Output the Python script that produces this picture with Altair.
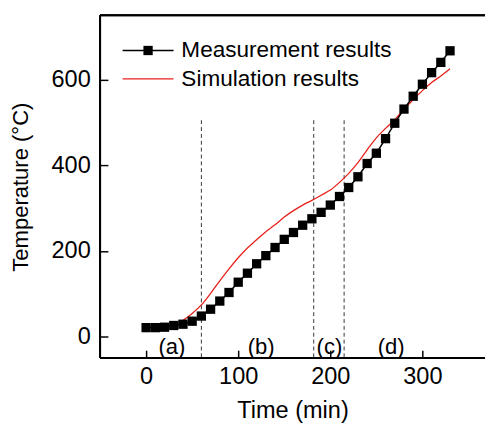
import altair as alt
import pandas as pd

# ---- data ----
meas_time = list(range(0, 331, 10))
meas_temp = [21, 21, 22, 26, 29, 36, 48, 64, 83, 103, 127, 148, 170, 189, 208, 227,
             243, 260, 275, 290, 307, 327, 348, 373, 404, 428, 462, 498, 531, 561,
             589, 616, 640, 667]

sim_time = list(range(0, 331, 10))
sim_temp = [21, 20, 22, 28, 38, 54, 74, 101, 130, 158, 184, 207, 226, 245, 261, 279,
            294, 307, 318, 330, 342, 360, 381, 406, 436, 464, 486, 506, 531, 553,
            574, 593, 608, 625]

stage_bounds = [60, 182, 215]
stage_top = [505, 505, 505]
stage_bottom = [-50, -50, -50]

stage_labels = ["(a)", "(b)", "(c)", "(d)"]
stage_label_x = [28, 125, 199, 266]
stage_label_y = [-24, -24, -24, -24]

x_ticks = [0, 100, 200, 300]
y_ticks = [0, 200, 400, 600]
legend_labels = ["Measurement results", "Simulation results"]

W, H = 393, 350
FONT = "Liberation Sans"

meas = pd.DataFrame({"t": meas_time, "T": meas_temp})
sim = pd.DataFrame({"t": sim_time, "T": sim_temp})
bounds = pd.DataFrame({"t": stage_bounds, "top": stage_top, "bot": stage_bottom})
labels = pd.DataFrame({"t": stage_label_x, "T": stage_label_y, "lab": stage_labels})
leg = pd.DataFrame({"lab": legend_labels})

xscale = alt.Scale(domain=[-50, 368], nice=False, zero=False)
yscale = alt.Scale(domain=[-50, 750], nice=False, zero=False)

xax = alt.Axis(values=x_ticks, title="Time (min)", grid=False, domain=False,
               offset=-8, tickSize=8, tickWidth=1.5, tickColor="black",
               labelPadding=7, titlePadding=11, labelFlush=False,
               labelFontSize=24, titleFontSize=24)
yax = alt.Axis(values=y_ticks, title="Temperature (°C)", grid=False, domain=False,
               offset=-8, tickSize=8, tickWidth=1.5, tickColor="black",
               labelPadding=10, titlePadding=19,
               labelFontSize=24, titleFontSize=22.5)

X = alt.X("t:Q", scale=xscale, axis=xax)
Y = alt.Y("T:Q", scale=yscale, axis=yax)

sim_line = alt.Chart(sim).mark_line(color="#e8201a", strokeWidth=1.3,
                                    interpolate="monotone").encode(x=X, y=Y)
meas_line = alt.Chart(meas).mark_line(color="black", strokeWidth=1.5).encode(x=X, y=Y)
meas_pts = alt.Chart(meas).mark_point(shape="square", filled=True, size=90,
                                      color="black", opacity=1).encode(x=X, y=Y)

dashes = alt.Chart(bounds).mark_rule(color="#333333", strokeWidth=1,
                                     strokeDash=[4, 3]).encode(
    x="t:Q", y="top:Q", y2="bot:Q")

stage_txt = alt.Chart(labels).mark_text(fontSize=22.5, font=FONT, color="black",
                                        baseline="middle").encode(
    x="t:Q", y="T:Q", text="lab:N")

# frame (left, top, bottom)
frame_left = alt.Chart(leg).mark_rule(color="black", strokeWidth=2).encode(
    x=alt.value(0), y=alt.value(0), y2=alt.value(H))
frame_top = alt.Chart(leg).mark_rule(color="black", strokeWidth=2).encode(
    x=alt.value(0), x2=alt.value(W), y=alt.value(0))
frame_bot = alt.Chart(leg).mark_rule(color="black", strokeWidth=2).encode(
    x=alt.value(0), x2=alt.value(W), y=alt.value(H))

# legend
leg1 = leg.iloc[[0]]
leg2 = leg.iloc[[1]]
l1_line = alt.Chart(leg1).mark_rule(color="black", strokeWidth=1.5).encode(
    x=alt.value(23), x2=alt.value(75), y=alt.value(36))
l1_pt = alt.Chart(leg1).mark_point(shape="square", filled=True, size=90,
                                   color="black", opacity=1).encode(
    x=alt.value(49), y=alt.value(36))
l1_txt = alt.Chart(leg1).mark_text(fontSize=23, font=FONT, align="left",
                                   baseline="middle", color="black").encode(
    x=alt.value(83), y=alt.value(36), text="lab:N")
l2_line = alt.Chart(leg2).mark_rule(color="#e8201a", strokeWidth=1.3).encode(
    x=alt.value(23), x2=alt.value(75), y=alt.value(65))
l2_txt = alt.Chart(leg2).mark_text(fontSize=23, font=FONT, align="left",
                                   baseline="middle", color="black").encode(
    x=alt.value(83), y=alt.value(65), text="lab:N")

chart = alt.layer(
    dashes, sim_line, meas_line, meas_pts, stage_txt,
    frame_left, frame_top, frame_bot,
    l1_line, l1_pt, l1_txt, l2_line, l2_txt,
).properties(
    width=W, height=H,
    padding={"left": 1, "top": 2, "right": 0, "bottom": 0},
).configure_view(
    stroke=None
).configure_axis(
    labelFont=FONT, titleFont=FONT,
    titleFontWeight="normal", labelColor="black", titleColor="black",
)

chart.save("out.html", embed_options={"renderer": "svg", "actions": False})
